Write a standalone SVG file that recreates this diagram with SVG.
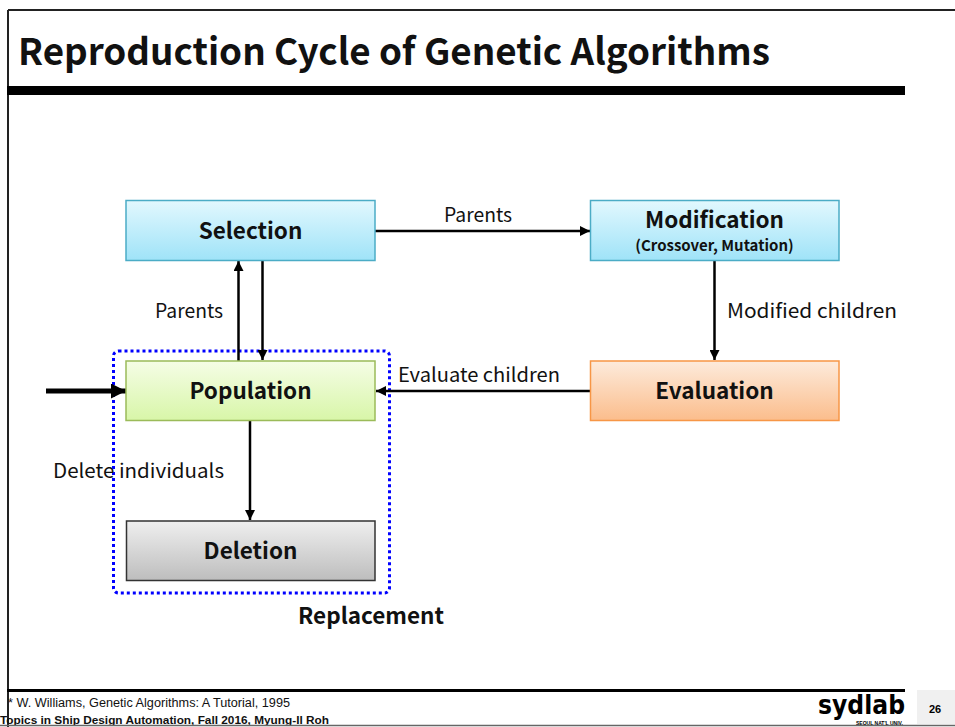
<svg xmlns="http://www.w3.org/2000/svg" width="955" height="727" viewBox="0 0 955 727">
<defs>
<linearGradient id="gBlue" x1="0" y1="0" x2="0" y2="1"><stop offset="0" stop-color="#e2f8fe"/><stop offset="1" stop-color="#9fe3f8"/></linearGradient>
<linearGradient id="gGreen" x1="0" y1="0" x2="0" y2="1"><stop offset="0" stop-color="#f5fde6"/><stop offset="1" stop-color="#d8f6a8"/></linearGradient>
<linearGradient id="gOrange" x1="0" y1="0" x2="0" y2="1"><stop offset="0" stop-color="#fdebdc"/><stop offset="1" stop-color="#fbbd8c"/></linearGradient>
<linearGradient id="gGray" x1="0" y1="0" x2="0" y2="1"><stop offset="0" stop-color="#efefef"/><stop offset="1" stop-color="#bdbdbd"/></linearGradient>
<marker id="ah" viewBox="0 0 10 10" refX="10" refY="5" markerWidth="4" markerHeight="4" orient="auto" markerUnits="strokeWidth"><path d="M0,0 L10,5 L0,10 z" fill="#000"/></marker>
<marker id="ahBig" viewBox="0 0 10 10" refX="10" refY="5" markerWidth="3" markerHeight="3" orient="auto" markerUnits="strokeWidth"><path d="M0,0 L10,5 L0,10 z" fill="#000"/></marker>
</defs>
<style>
.node rect{stroke-width:1.5}
.lbl{font-family:"Noto Sans CJK KR","Open Sans",sans-serif;font-weight:bold;font-size:22.5px;fill:#111;text-anchor:middle}
.sub{font-family:"Noto Sans CJK KR","Open Sans",sans-serif;font-weight:bold;font-size:15px;fill:#111;text-anchor:middle}
.edge{font-family:"Noto Sans CJK KR","Open Sans",sans-serif;font-size:19.5px;fill:#111}
.conn line{stroke:#000;stroke-width:2.5;marker-end:url(#ah)}
</style>
<rect width="955" height="727" fill="#fff"/>
<!-- frame -->
<line x1="8" y1="10" x2="955" y2="10" stroke="#222" stroke-width="2"/>
<line x1="8" y1="10" x2="8" y2="727" stroke="#222" stroke-width="2"/>
<rect x="7" y="86" width="898" height="9" fill="#000"/>
<text x="18" y="65" font-family="'Noto Sans CJK KR','Open Sans',sans-serif" font-weight="bold" font-size="37" fill="#111" textLength="752" lengthAdjust="spacingAndGlyphs">Reproduction Cycle of Genetic Algorithms</text>

<g id="replacement">
<rect x="113.5" y="351" width="276" height="242" rx="5" fill="none" stroke="#0000ff" stroke-width="3" stroke-dasharray="3 3"/>
<text x="371" y="624" class="lbl" font-size="21">Replacement</text>
</g>

<g id="connectors" class="conn">
<line x1="375" y1="231" x2="590" y2="231"/>
<line x1="714.5" y1="261" x2="714.5" y2="360"/>
<line x1="590" y1="391" x2="376" y2="391"/>
<line x1="238.5" y1="361" x2="238.5" y2="261"/>
<line x1="262.5" y1="261" x2="262.5" y2="360"/>
<line x1="250" y1="421" x2="250" y2="520"/>
<line x1="46" y1="391" x2="126" y2="391" style="stroke-width:5;marker-end:url(#ahBig)"/>
<text class="edge" x="444" y="222" textLength="68" lengthAdjust="spacingAndGlyphs">Parents</text>
<text class="edge" x="155" y="318" textLength="68" lengthAdjust="spacingAndGlyphs">Parents</text>
<text class="edge" x="727" y="318" textLength="170" lengthAdjust="spacingAndGlyphs">Modified children</text>
<text class="edge" x="398" y="382" textLength="162" lengthAdjust="spacingAndGlyphs">Evaluate children</text>
<text class="edge" x="53" y="478" textLength="171" lengthAdjust="spacingAndGlyphs">Delete individuals</text>
</g>

<g id="selection" class="node">
<rect x="126" y="200.5" width="249" height="60" fill="url(#gBlue)" stroke="#4bacc6"/>
<text x="250.5" y="239" class="lbl">Selection</text>
</g>
<g id="modification" class="node">
<rect x="590.5" y="200.5" width="248.5" height="60" fill="url(#gBlue)" stroke="#4bacc6"/>
<text x="714.5" y="228" class="lbl">Modification</text>
<text x="714.5" y="251" class="sub">(Crossover, Mutation)</text>
</g>
<g id="population" class="node">
<rect x="126" y="361" width="249" height="59.5" fill="url(#gGreen)" stroke="#9bbb59"/>
<text x="250.5" y="399" class="lbl">Population</text>
</g>
<g id="evaluation" class="node">
<rect x="590.5" y="361" width="248.5" height="59.5" fill="url(#gOrange)" stroke="#f79646"/>
<text x="714.5" y="399" class="lbl">Evaluation</text>
</g>
<g id="deletion" class="node">
<rect x="126.5" y="521" width="248.5" height="59.5" fill="url(#gGray)" stroke="#333"/>
<text x="250.5" y="559" class="lbl">Deletion</text>
</g>

<!-- footer -->
<rect x="7" y="689" width="898" height="3" fill="#000"/>
<text x="8" y="707" font-family="'Liberation Sans Narrow','Liberation Sans',sans-serif" font-size="12" fill="#111" textLength="282" lengthAdjust="spacingAndGlyphs">* W. Williams, Genetic Algorithms: A Tutorial, 1995</text>
<text x="0" y="724" font-family="'Liberation Sans Narrow','Liberation Sans',sans-serif" font-weight="bold" font-size="11" fill="#111" textLength="329" lengthAdjust="spacingAndGlyphs">Topics in Ship Design Automation, Fall 2016, Myung-Il Roh</text>
<line x1="0" y1="725.5" x2="955" y2="725.5" stroke="#666" stroke-width="1.5"/>
<text x="818" y="714" font-family="'DejaVu Sans','Liberation Sans',sans-serif" font-weight="bold" font-size="27" fill="#000" textLength="87" lengthAdjust="spacingAndGlyphs">sydlab</text>
<text x="856" y="725" font-family="'Liberation Sans Narrow','Liberation Sans',sans-serif" font-weight="bold" font-size="5" fill="#000">SEOUL NAT'L UNIV.</text>
<rect x="917" y="690" width="38" height="34" fill="#f0f0f0"/>
<text x="935" y="713" font-family="'Liberation Sans','DejaVu Sans',sans-serif" font-weight="bold" font-size="11" fill="#000" text-anchor="middle">26</text>
</svg>
